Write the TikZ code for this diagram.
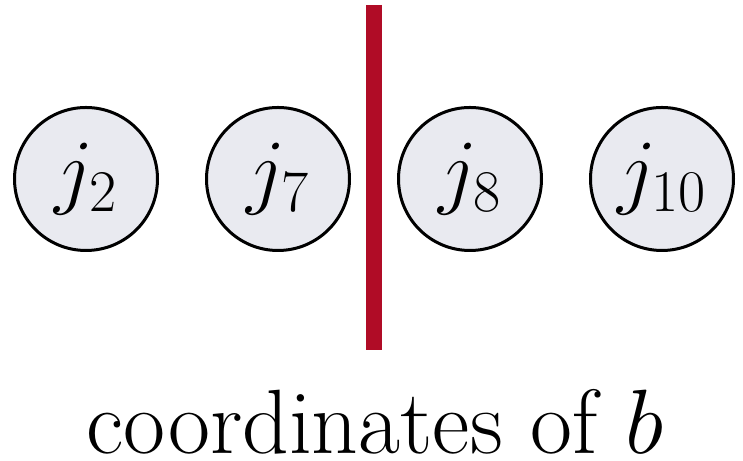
\RequirePackage{fix-cm}
\documentclass[tikz,border=0pt]{standalone}
\usepackage{amsmath}
\usepackage{xcolor}
\usetikzlibrary{positioning}
\definecolor{jobfill}{HTML}{E9EAF0}
\definecolor{cutred}{HTML}{B00C26}
\tikzset{
  job/.style={
    circle,
    draw=black,
    fill=jobfill,
    line width=0.06cm,
    minimum size=2.86cm,
    inner sep=0pt,
    font=\fontsize{48}{56}\selectfont
  },
  cut/.style={draw=cutred, line width=0.32cm},
  caption/.style={font=\fontsize{52}{60}\selectfont, inner sep=0pt, anchor=base}
}
\begin{document}
\begin{tikzpicture}[node distance=0.92cm]
  \useasboundingbox (0,0) rectangle (14.86,9.22);
  \node[job] (j2) at (1.72,5.64) {$j_2$};
  \node[job, right=of j2] (j7) {$j_7$};
  \node[job, right=of j7] (j8) {$j_8$};
  \node[job, right=of j8] (j10) {$j_{10}$};

  \coordinate (cuttop) at (7.48,9.12);
  \coordinate (cutbot) at (7.48,2.22);
  \draw[cut] (cuttop) -- (cutbot);

  \node[caption] (label) at (7.5,0.14) {coordinates of $b$};
\end{tikzpicture}
\end{document}
